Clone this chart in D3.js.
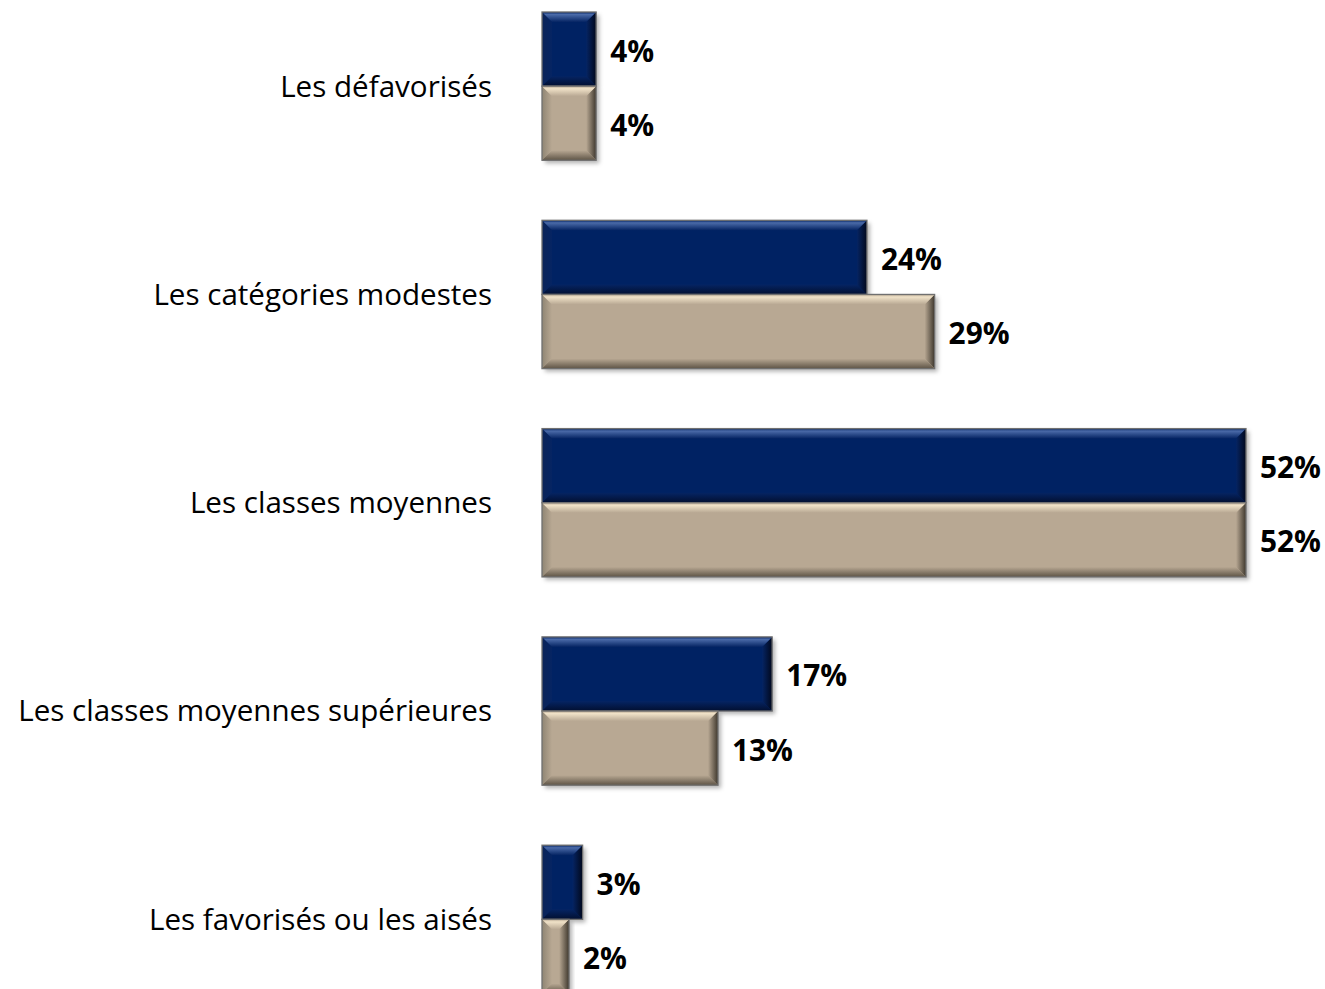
<!DOCTYPE html>
<html><head><meta charset="utf-8">
<script src="https://cdn.jsdelivr.net/npm/d3@7"></script>
<style>body{margin:0;background:#fff}svg{display:block}</style>
</head><body>
<script>
const categories = ["Les défavorisés","Les catégories modestes","Les classes moyennes","Les classes moyennes supérieures","Les favorisés ou les aisés"];
const seriesNames = ["Série 1","Série 2"];
const series1 = [4,24,52,17,3];
const series2 = [4,29,52,13,2];
const colors = {"Série 1":{base:"#052463",light:"#4a6aa8",dark:"#020f30",side:"#0b2458",rside:"#01081c"},
                "Série 2":{base:"#b8a893",light:"#f0e2c8",dark:"#5e5446",side:"#8f8573",rside:"#3e372d"}};
const FONT="'Open Sans', Carlito, Calibri, sans-serif";

const W=1325,H=989;
const svg=d3.select("body").append("svg").attr("width",W).attr("height",H);
const defs=svg.append("defs");
const f=defs.append("filter").attr("id","sh").attr("x","-10%").attr("y","-10%").attr("width","130%").attr("height","130%");
f.append("feDropShadow").attr("dx",3).attr("dy",3).attr("stdDeviation",2).attr("flood-color","#000").attr("flood-opacity",0.3);

function grad(id,x1,y1,x2,y2,stops){
  const lg=defs.append("linearGradient").attr("id",id).attr("x1",x1).attr("y1",y1).attr("x2",x2).attr("y2",y2);
  stops.forEach(s=>lg.append("stop").attr("offset",s[0]).attr("stop-color",s[1]));
}
seriesNames.forEach((s,i)=>{
  const c=colors[s];
  grad("top"+i,0,0,0,1,[[0,c.base],[0.25,c.light],[1,c.base]]);
  grad("bot"+i,0,0,0,1,[[0,c.base],[1,c.dark]]);
  grad("lef"+i,0,0,1,0,[[0,c.side],[1,c.base]]);
  grad("rig"+i,0,0,1,0,[[0,c.base],[1,c.rside]]);
});

const x=d3.scaleLinear().domain([0,52]).range([542,1246]);
const y=d3.scaleBand().domain(categories).range([-18,1023.5]).paddingInner(0.288).paddingOuter(0.144);
const ys=d3.scaleBand().domain(seriesNames).range([0,y.bandwidth()]);

const data=[];
categories.forEach((c,i)=>{
  data.push({cat:c,s:"Série 1",si:0,v:series1[i]});
  data.push({cat:c,s:"Série 2",si:1,v:series2[i]});
});

const g=svg.append("g");
const vlabels=[];
data.forEach(d=>{
  const x0=x(0),x1=x(d.v),y0=y(d.cat)+ys(d.s),h=ys.bandwidth(),y1=y0+h;
  const col=colors[d.s];
  const b=Math.min(10,(x1-x0)/2,h/2);
  const bg=g.append("g");
  bg.append("rect").attr("x",x0).attr("y",y0).attr("width",x1-x0).attr("height",h)
    .attr("fill",col.base).attr("filter","url(#sh)");
  const poly=(pts,fill)=>bg.append("polygon").attr("points",pts.map(p=>p.join(",")).join(" ")).attr("fill",fill);
  poly([[x0,y0],[x0+b,y0+b],[x0+b,y1-b],[x0,y1]],"url(#lef"+d.si+")");
  poly([[x1,y0],[x1,y1],[x1-b,y1-b],[x1-b,y0+b]],"url(#rig"+d.si+")");
  poly([[x0,y0],[x1,y0],[x1-b,y0+b],[x0+b,y0+b]],"url(#top"+d.si+")");
  poly([[x0,y1],[x0+b,y1-b],[x1-b,y1-b],[x1,y1]],"url(#bot"+d.si+")");
  bg.append("rect").attr("x",x0).attr("y",y0).attr("width",x1-x0).attr("height",h)
    .attr("fill","none").attr("stroke","#707070").attr("stroke-width",1.3);
  vlabels.push(g.append("text").attr("x",x1+14).attr("y",y0+h/2+2).attr("dy","0.35em")
    .attr("font-family",FONT).attr("font-weight","bold")
    .attr("font-size",28).attr("fill","#000").text(d.v+"%"));
});

const cl=svg.append("g").selectAll("text").data(categories).join("text")
  .attr("x",492).attr("y",d=>y(d)+y.bandwidth()/2).attr("dy","0.35em").attr("text-anchor","end")
  .attr("font-family",FONT).attr("font-size",28).attr("fill","#000")
  .text(d=>d);
// fit font sizes to reference widths
const longest=cl.nodes()[3].getComputedTextLength();
const fs=Math.max(24,Math.min(32,28*474/longest));
cl.attr("font-size",fs);
const w52=vlabels[4].node().getComputedTextLength();
const vfs=Math.max(24,Math.min(32,28*61/w52));
vlabels.forEach(t=>t.attr("font-size",vfs));
</script>
</body></html>
